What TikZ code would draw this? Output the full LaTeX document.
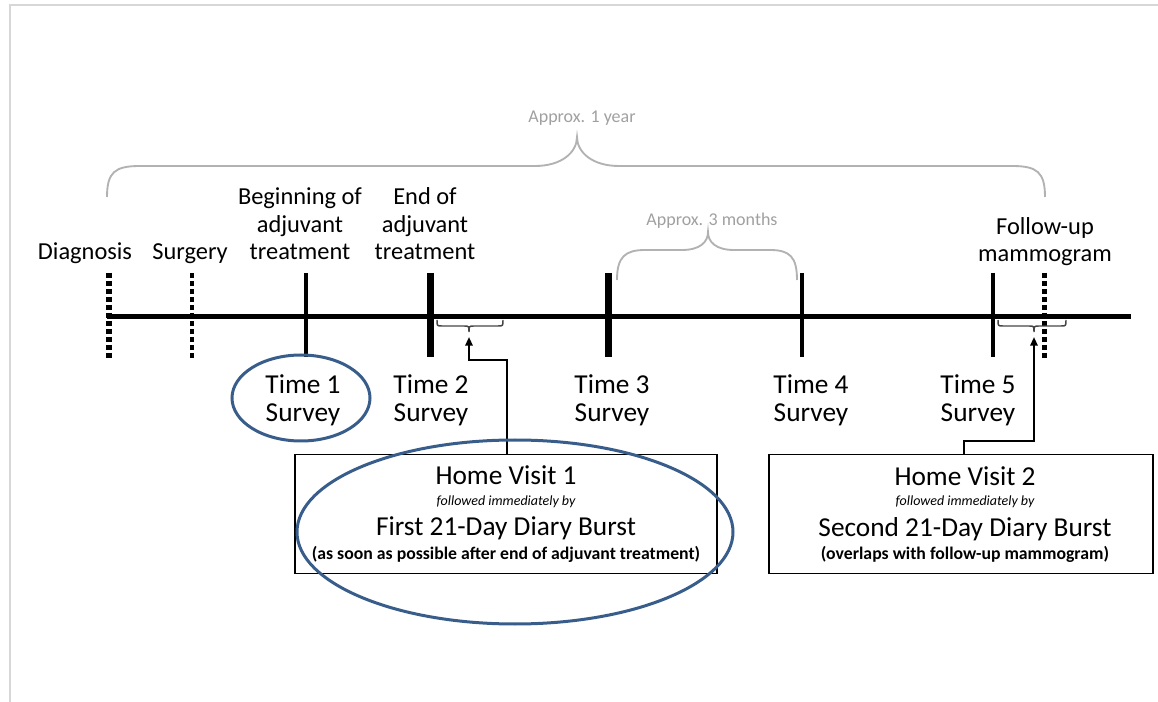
\documentclass[tikz,border=0pt]{standalone}
\usepackage{fontspec}
\setmainfont{Carlito}
\usepackage{xcolor}
\usetikzlibrary{arrows.meta}

\definecolor{circblue}{RGB}{56,93,138}
\definecolor{bracegray}{RGB}{178,178,178}
\definecolor{notegray}{RGB}{160,160,160}
\definecolor{framegray}{RGB}{215,215,215}
\definecolor{brackdark}{RGB}{70,70,70}

\begin{document}
\begin{tikzpicture}[x=0.75pt,y=0.75pt,yscale=-1,xscale=1,
  toplabel/.style={anchor=south,inner sep=0pt,text depth=0pt,align=center,font=\fontsize{18.3}{20.6}\selectfont},
  surveylabel/.style={anchor=south,inner sep=0pt,text depth=0pt,align=center,font=\fontsize{20.5}{21}\selectfont},
  notelabel/.style={anchor=base,inner sep=0pt,text=notegray,font=\fontsize{13.5}{16}\selectfont},
  visitbox/.style={draw,line width=1.1pt,minimum height=89pt,inner sep=0pt},
  boxtitle/.style={anchor=base,inner sep=0pt,font=\fontsize{20.5}{24}\selectfont},
  boxsmall/.style={anchor=base,inner sep=0pt,font=\fontsize{10.5}{12}\selectfont\itshape},
  boxnote/.style={anchor=base,inner sep=0pt,font=\fontsize{13.3}{15}\selectfont\bfseries},
  tickmark/.style={line width=#1},
  dashtick/.style={line width=#1,dash pattern=on 3.75pt off 2.25pt},
  brace/.style={bracegray,line width=1.4pt},
  bracket/.style={brackdark,line width=1.1pt},
  conn/.style={line width=1.5pt,-{Triangle[length=6.5pt,width=5.5pt]}},
  ring/.style={circblue,line width=2.25pt}
]
\useasboundingbox (0,0) rectangle (1158,702);

%Frame lines
\draw [framegray,line width=1.1pt] (10,702) -- (10,5) -- (1158,5) ;

%Timeline
\draw [line width=3.75pt] (107,317) -- (1131,317) ;
%Solid ticks
\foreach \x/\w in {306/3pt,430/5.25pt,608/5.25pt,802/3pt,993/3pt}
  \draw [tickmark=\w] (\x,273) -- (\x,357) ;
%Dashed ticks
\foreach \x/\w in {109/4.5pt,192/3pt,1044/3.75pt}
  \draw [dashtick=\w] (\x,273) -- (\x,358) ;

%Braces
\draw [brace] (107,197) .. controls (107,172) and (115,166) .. (140,166) -- (535,166) .. controls (562,166) and (577,152) .. (577,137) .. controls (577,152) and (592,166) .. (619,166) -- (1012,166) .. controls (1037,166) and (1045,172) .. (1045,197) ;
\draw [brace] (617,280) .. controls (617,257) and (625,250) .. (645,250) -- (682,250) .. controls (700,250) and (708,242) .. (708,232) .. controls (708,242) and (716,250) .. (734,250) -- (770,250) .. controls (790,250) and (797,257) .. (797,280) ;

% Text Node
\node [notelabel] (yearnote) at (582,123) {Approx. 1 year};
% Text Node
\node [notelabel] (monthnote) at (712,226) {Approx. 3 months};

% Text Node
\node [toplabel] (diag) at (85,260) {Diagnosis};
% Text Node
\node [toplabel] (surg) at (190,260) {Surgery};
% Text Node
\node [toplabel] (begin) at (300,260) {Beginning of\\adjuvant\\treatment};
% Text Node
\node [toplabel] (endtr) at (425,260) {End of\\adjuvant\\treatment};
% Text Node
\node [toplabel] (mammo) at (1045,262) {Follow-up\\mammogram};

% Survey labels
\foreach \n/\x in {1/303,2/431,3/612,4/811,5/978}
  \node [surveylabel] (time\n) at (\x,422) {Time \n\\Survey};

%Small brackets under the line
\coordinate (tipA) at (469,337);
\coordinate (tipB) at (1034,337);
\draw [bracket] (437,320) .. controls (437,326) .. (442,326) -- (464,326) .. controls (469,326) .. (469,332) .. controls (469,326) .. (474,326) -- (498,326) .. controls (503,326) .. (503,320) ;
\draw [bracket] (998,320) .. controls (998,326) .. (1003,326) -- (1029,326) .. controls (1034,326) .. (1034,332) .. controls (1034,326) .. (1039,326) -- (1061,326) .. controls (1066,326) .. (1066,320) ;

%Home visit boxes
\node [visitbox,minimum width=316.5pt] (hv1) at (506,514) {};
\node [visitbox,minimum width=288pt] (hv2) at (961,514) {};

% Text Node
\node [boxtitle] (hv1a) at (506,485) {Home Visit 1};
\node [boxsmall] (hv1b) at (506,506) {followed immediately by};
\node [boxtitle] (hv1c) at (506,536) {First 21-Day Diary Burst};
\node [boxnote] (hv1d) at (506,560) {(as soon as possible after end of adjuvant treatment)};
% Text Node
\node [boxtitle] (hv2a) at (965,486) {Home Visit 2};
\node [boxsmall] (hv2b) at (965,506) {followed immediately by};
\node [boxtitle] (hv2c) at (965,537) {Second 21-Day Diary Burst};
\node [boxnote] (hv2d) at (965,560) {(overlaps with follow-up mammogram)};

%Connectors
\coordinate (bendA) at (507,360);
\coordinate (bendB) at (964,441);
\draw [conn] (hv1.north -| bendA) -- (bendA) -| (tipA) ;
\draw [conn] (hv2.north -| bendB) -- (bendB) -| (tipB) ;

%Highlight rings
\draw [ring] (301,398) ellipse [x radius=69, y radius=43] ;
\draw [ring] (515,532) ellipse [x radius=218, y radius=92] ;

\end{tikzpicture}
\end{document}
